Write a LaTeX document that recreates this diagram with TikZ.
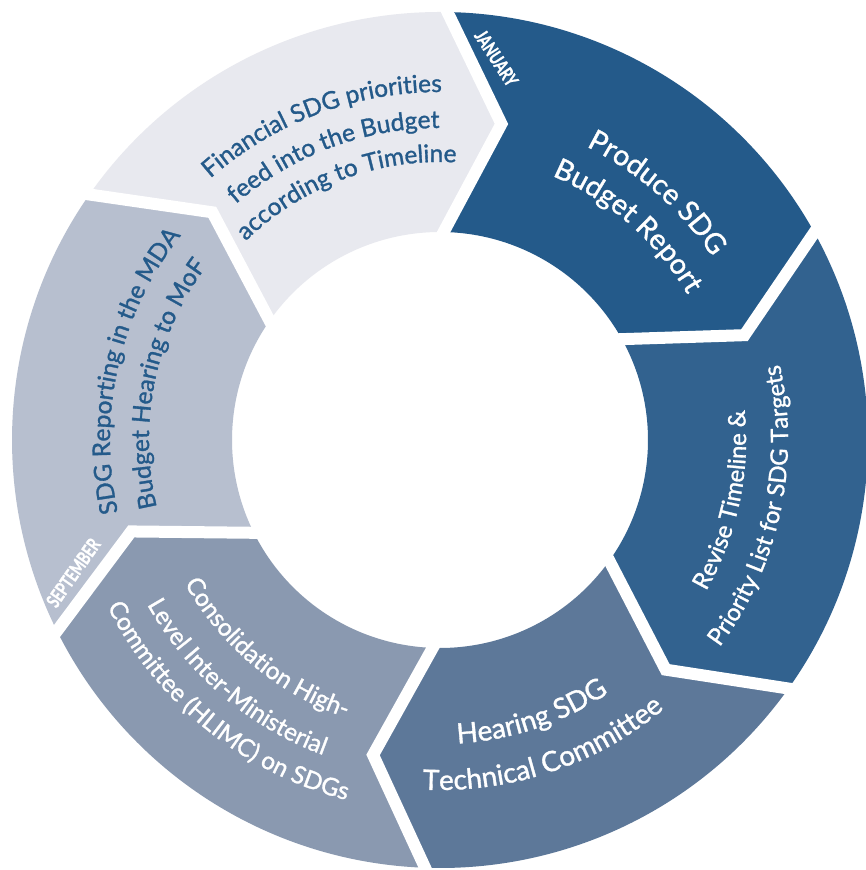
\documentclass[tikz,border=0pt]{standalone}
\usepackage{fontspec}
\setmainfont{Lato}[FakeBold=1.2]
\newfontfamily\monthfont{Lato}[FakeBold=1.5]
\usetikzlibrary{decorations.text}
\definecolor{produceblue}{RGB}{36,90,138}
\definecolor{reviseblue}{RGB}{50,98,143}
\definecolor{hearingblue}{RGB}{93,120,153}
\definecolor{consgray}{RGB}{138,153,176}
\definecolor{reportgray}{RGB}{183,191,207}
\definecolor{financegray}{RGB}{232,233,239}
\tikzset{
  gap/.style={draw=white, line width=12pt, line join=miter, line cap=rect},
  month/.style={text=white, font=\monthfont\fontsize{19}{19}\selectfont\bfseries,
    xscale=.72, transform shape, inner sep=0pt}
}
% text on an arc: angle, radius, size, colour, text
\newcommand{\cwline}[5]{%
  \path[decorate, decoration={text along path, text align=center, text color=#4,
      text={|\fontsize{#3}{#3}\selectfont|#5}}]
    (#1+60:#2) arc[start angle=#1+60, end angle=#1-60, radius=#2];}
\newcommand{\ccwline}[5]{%
  \path[decorate, decoration={text along path, text align=center, text color=#4,
      text={|\fontsize{#3}{#3}\selectfont|#5}}]
    (#1-60:#2) arc[start angle=#1-60, end angle=#1+60, radius=#2];}
\begin{document}
\begin{tikzpicture}[x=1pt, y=1pt]
  \fill[white] (0,0) rectangle (866,870);
  \useasboundingbox (0,0) rectangle (866,870);
  \begin{scope}[shift={(440,430)}]
    \foreach \s/\e/\col in {89/29/produceblue, 29/-35.5/reviseblue,
        -35.5/-92/hearingblue, -92/-153.5/consgray, 206.5/145/reportgray,
        145/89/financegray}
      \fill[\col] (\s:428) arc[start angle=\s, end angle=\e, radius=428]
        -- (\e-10:322) -- (\e:208) arc[start angle=\e, end angle=\s, radius=208]
        -- (\s-10:322) -- cycle;
    \foreach \b in {89, 29, -35.5, -92, -153.5, 145}
      \draw[gap] (\b:428) -- (\b-10:322) -- (\b:208);

    \cwline{110.5}{348}{24.5}{produceblue}{Financial SDG priorities}
    \cwline{110.5}{312}{24.5}{produceblue}{feed into the Budget}
    \cwline{110.5}{278}{24.5}{produceblue}{according to Timeline}

    \cwline{48.7}{328}{28.5}{white}{Produce SDG}
    \cwline{48.7}{287}{28.5}{white}{Budget Report}

    \ccwline{-12}{306}{24}{white}{Revise Timeline {\&}}
    \ccwline{-12}{348}{24}{white}{Priority List for SDG Targets}

    \ccwline{-71.5}{304}{28}{white}{Hearing SDG}
    \ccwline{-71.5}{350}{28}{white}{Technical Committee}

    \ccwline{-129.7}{293}{24.5}{white}{Consolidation High-}
    \ccwline{-130.5}{336}{24.5}{white}{Level Inter-Ministerial}
    \ccwline{-129}{372}{24.5}{white}{Committee (HLIMC) on SDGs}

    \cwline{167.2}{330}{24.5}{produceblue}{SDG Reporting in the MDA}
    \cwline{168.3}{291}{24.5}{produceblue}{Budget Hearing to MoF}

    \node[rotate=-57, month] (jan) at (81.6:386) {JANUARY};
    \node[rotate=55, month] (sep) at (199.9:390) {SEPTEMBER};
  \end{scope}
\end{tikzpicture}
\end{document}
